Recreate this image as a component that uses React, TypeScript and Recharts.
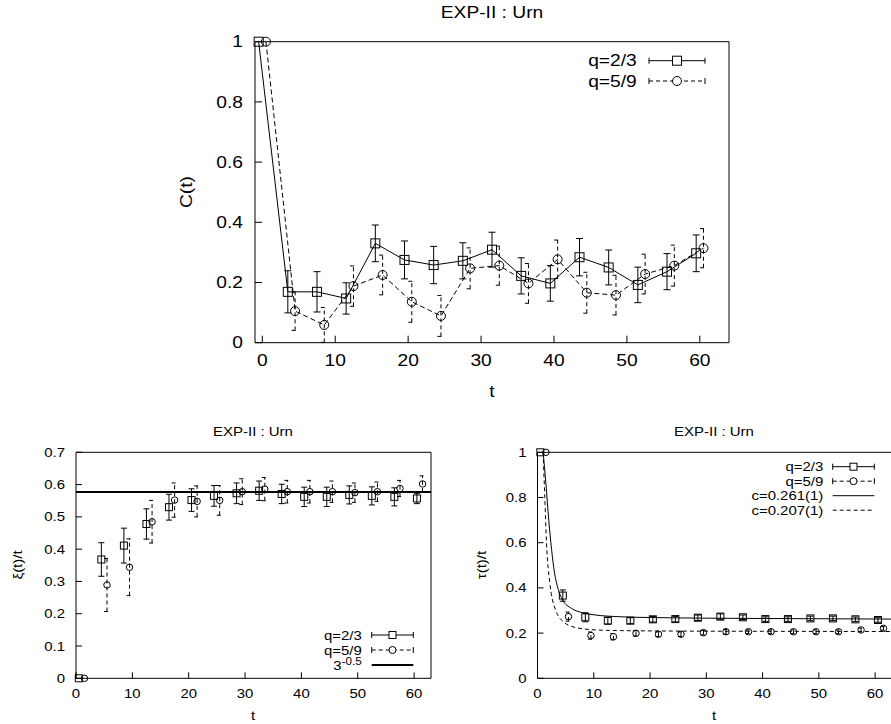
import React from "react";
import {
  ComposedChart,
  Line,
  Scatter,
  XAxis,
  YAxis,
  ErrorBar,
  ReferenceLine,
  Legend,
} from "recharts";

const FONT = '"Liberation Sans", Arial, Helvetica, sans-serif';

// top panel, C(t)
const tTopSq = [-0.5, 3.5, 7.5, 11.5, 15.5, 19.5, 23.5, 27.5, 31.5, 35.5, 39.5, 43.5, 47.5, 51.5, 55.5, 59.5];
const cSq = [1, 0.169, 0.169, 0.147, 0.33, 0.275, 0.258, 0.272, 0.309, 0.222, 0.197, 0.284, 0.25, 0.192, 0.236, 0.297];
const cSqErr = [0, 0.07, 0.067, 0.052, 0.061, 0.063, 0.062, 0.06, 0.058, 0.06, 0.059, 0.062, 0.058, 0.059, 0.06, 0.061];
const tTopCi = [0.5, 4.5, 8.5, 12.5, 16.5, 20.5, 24.5, 28.5, 32.5, 36.5, 40.5, 44.5, 48.5, 52.5, 56.5, 60.5];
const cCi = [1, 0.105, 0.059, 0.188, 0.225, 0.136, 0.089, 0.247, 0.256, 0.197, 0.277, 0.166, 0.158, 0.228, 0.256, 0.314];
const cCiErr = [0, 0.064, 0.058, 0.067, 0.066, 0.068, 0.068, 0.068, 0.065, 0.066, 0.064, 0.068, 0.066, 0.066, 0.068, 0.065];

// bottom panels share the t positions
const tBotSq = [0.5, 4.5, 8.5, 12.5, 16.5, 20.5, 24.5, 28.5, 32.5, 36.5, 40.5, 44.5, 48.5, 52.5, 56.5, 60.5];
const tBotCi = [1.5, 5.5, 9.5, 13.5, 17.5, 21.5, 25.5, 29.5, 33.5, 37.5, 41.5, 45.5, 49.5, 53.5, 57.5, 61.5];

// xi(t)/t
const xiSq = [0, 0.368, 0.411, 0.478, 0.53, 0.552, 0.565, 0.573, 0.581, 0.571, 0.562, 0.562, 0.568, 0.565, 0.562, 0.557];
const xiSqErr = [0, 0.052, 0.054, 0.047, 0.04, 0.035, 0.032, 0.032, 0.03, 0.03, 0.03, 0.03, 0.028, 0.028, 0.028, 0.016];
const xiCi = [0, 0.289, 0.344, 0.485, 0.552, 0.548, 0.551, 0.578, 0.586, 0.578, 0.578, 0.578, 0.575, 0.578, 0.588, 0.602];
const xiCiErr = [0, 0.082, 0.088, 0.066, 0.053, 0.048, 0.046, 0.04, 0.036, 0.035, 0.035, 0.033, 0.03, 0.03, 0.025, 0.025];
const refLevel = 0.577;

// tau(t)/t
const tauSq = [1, 0.366, 0.27, 0.255, 0.255, 0.261, 0.262, 0.268, 0.273, 0.27, 0.262, 0.262, 0.265, 0.265, 0.261, 0.258];
const tauSqErr = [0, 0.025, 0.02, 0.015, 0.013, 0.012, 0.012, 0.012, 0.012, 0.01, 0.01, 0.01, 0.01, 0.01, 0.01, 0.01];
const tauCi = [1, 0.273, 0.189, 0.184, 0.199, 0.195, 0.195, 0.202, 0.206, 0.206, 0.206, 0.206, 0.206, 0.206, 0.214, 0.221];
const tauCiErr = [0, 0.02, 0.016, 0.014, 0.012, 0.01, 0.01, 0.01, 0.01, 0.008, 0.008, 0.008, 0.008, 0.008, 0.008, 0.008];

// fitted curves
const fitT1 = [1, 1.5, 2, 2.5, 3, 3.5, 4.5, 6, 8, 10, 15, 20, 30, 45, 63];
const fitC1 = [1, 0.86, 0.7, 0.57, 0.47, 0.41, 0.345, 0.31, 0.29, 0.281, 0.272, 0.269, 0.266, 0.264, 0.262];
const fitT2 = [1, 1.3, 1.6, 2.2, 3.1, 4.6, 6.9, 10.5, 15, 25, 40, 63];
const fitC2 = [1, 0.8, 0.6, 0.42, 0.31, 0.25, 0.224, 0.214, 0.211, 0.209, 0.208, 0.207];

const xTicks = [0, 10, 20, 30, 40, 50, 60];
const yTicksC = [0, 0.2, 0.4, 0.6, 0.8, 1];
const yTicksXi = [0, 0.1, 0.2, 0.3, 0.4, 0.5, 0.6, 0.7];
const yTicksTau = [0, 0.2, 0.4, 0.6, 0.8, 1];

const title = "EXP-II : Urn";

const rows = (ts: number[], vs: number[], es?: number[]) =>
  ts.map((t, i) => ({ t, v: vs[i], e: es ? es[i] : 0 }));

const Square = ({ cx, cy, s, fill = "none" }: any) => (
  <rect x={cx - s / 2} y={cy - s / 2} width={s} height={s} fill={fill} stroke="#000" strokeWidth={1} />
);
const Ring = ({ cx, cy, s, fill = "none" }: any) => (
  <circle cx={cx} cy={cy} r={s / 2} fill={fill} stroke="#000" strokeWidth={1} />
);

const wideTick = (size: number, sx: number, dy: string) => (p: any) => (
  <text
    transform={`translate(${p.x},${p.y}) scale(${sx},1)`}
    textAnchor={p.textAnchor}
    dy={dy}
    fontSize={size}
    fontFamily={FONT}
    fill="#000"
  >
    {p.payload.value}
  </text>
);

function Caption({ x, y, size, sx, rotate, children }: any) {
  return (
    <div
      style={{
        position: "absolute",
        left: x,
        top: y,
        fontSize: size,
        fontFamily: FONT,
        lineHeight: 1,
        whiteSpace: "nowrap",
        transform: `translate(-50%,-50%) ${rotate ? "rotate(-90deg)" : ""} scaleX(${sx})`,
      }}
    >
      {children}
    </div>
  );
}

type LegItem = { label: string; sup?: string; mark?: "sq" | "ci"; dash?: string; caps?: boolean; w?: number };

function LegendSvg({ items, w, h, textX, x1, x2, y0, dy, size, sx, ms }: any) {
  return (
    <svg width={w} height={h} style={{ display: "block", overflow: "visible" }}>
      {items.map((it: LegItem, i: number) => {
        const y = y0 + i * dy;
        const xm = (x1 + x2) / 2;
        return (
          <g key={i}>
            <text
              transform={`translate(${textX},${y}) scale(${sx},1)`}
              textAnchor="end"
              dy="0.35em"
              fontSize={size}
              fontFamily={FONT}
              fill="#000"
            >
              {it.label}
              {it.sup && (
                <tspan dy="-0.45em" fontSize={size * 0.78}>
                  {it.sup}
                </tspan>
              )}
            </text>
            <line x1={x1} x2={x2} y1={y} y2={y} stroke="#000" strokeWidth={it.w || 1} strokeDasharray={it.dash} />
            {it.caps && (
              <>
                <line x1={x1} x2={x1} y1={y - 3} y2={y + 3} stroke="#000" />
                <line x1={x2} x2={x2} y1={y - 3} y2={y + 3} stroke="#000" />
              </>
            )}
            {it.mark === "sq" && <Square cx={xm} cy={y} s={ms} fill="#fff" />}
            {it.mark === "ci" && <Ring cx={xm} cy={y} s={ms} fill="#fff" />}
          </g>
        );
      })}
    </svg>
  );
}

const legTop: LegItem[] = [
  { label: "q=2/3", mark: "sq", caps: true },
  { label: "q=5/9", mark: "ci", caps: true, dash: "4 3" },
];
const legXi: LegItem[] = [
  { label: "q=2/3", mark: "sq", caps: true },
  { label: "q=5/9", mark: "ci", caps: true, dash: "4 3" },
  { label: "3", sup: "-0.5", w: 2 },
];
const legTau: LegItem[] = [
  { label: "q=2/3", mark: "sq", caps: true },
  { label: "q=5/9", mark: "ci", caps: true, dash: "4 3" },
  { label: "c=0.261(1)" },
  { label: "c=0.207(1)", dash: "4 3" },
];

// every axis is 1px thick so recharts draws it; margins below subtract that pixel
const axes = (xd: number[], yd: number[], yt: number[], size: number, sx: number, ts: number, xm: number, ym: number) => [
  <XAxis key="xb" xAxisId="b" dataKey="t" type="number" domain={xd} ticks={xTicks} interval={0} height={1}
    tickSize={-ts} tickMargin={xm} tick={wideTick(size, sx, "0.71em")} stroke="#000" />,
  <XAxis key="xt" xAxisId="t" orientation="top" type="number" domain={xd} ticks={xTicks} interval={0} height={1}
    tickSize={-ts} tick={false} stroke="#000" allowDataOverflow />,
  <YAxis key="yl" yAxisId="l" type="number" domain={yd} ticks={yt} interval={0} width={1}
    tickSize={-ts} tickMargin={ym} tick={wideTick(size, sx, "0.35em")} stroke="#000" />,
  <YAxis key="yr" yAxisId="r" orientation="right" type="number" domain={yd} ticks={yt} interval={0} width={1}
    tickSize={-ts} tick={false} stroke="#000" allowDataOverflow />,
];

export default function App() {
  const topSq = rows(tTopSq, cSq, cSqErr);
  const topCi = rows(tTopCi, cCi, cCiErr);
  const xiA = rows(tBotSq, xiSq, xiSqErr);
  const xiB = rows(tBotCi, xiCi, xiCiErr);
  const tauA = rows(tBotSq, tauSq, tauSqErr);
  const tauB = rows(tBotCi, tauCi, tauCiErr);
  const fit1 = rows(fitT1, fitC1);
  const fit2 = rows(fitT2, fitC2);

  return (
    <div style={{ position: "absolute", left: 0, top: 0, width: 891, height: 724, overflow: "hidden", background: "#fff" }}>
      {/* top panel */}
      <div style={{ position: "absolute", left: 0, top: 0 }}>
        <ComposedChart width={891} height={400} margin={{ top: 40.7, right: 161, bottom: 56.3, left: 254 }}>
          {axes([-1, 64], [0, 1], yTicksC, 16, 1.2, 7, 19, 19)}
          <Line xAxisId="b" yAxisId="l" data={topSq} dataKey="v" type="linear" stroke="#000" strokeWidth={1}
            isAnimationActive={false} activeDot={false}
            dot={(p: any) => <Square key={`a${p.index}`} cx={p.cx} cy={p.cy} s={9} />}>
            <ErrorBar dataKey="e" direction="y" width={3.5} stroke="#000" strokeWidth={1} />
          </Line>
          <Line xAxisId="b" yAxisId="l" data={topCi} dataKey="v" type="linear" stroke="#000" strokeWidth={1}
            strokeDasharray="5 3" isAnimationActive={false} activeDot={false}
            dot={(p: any) => <Ring key={`b${p.index}`} cx={p.cx} cy={p.cy} s={9} />}>
            <ErrorBar dataKey="e" direction="y" width={3.5} stroke="#000" strokeWidth={1} strokeDasharray="4 3" />
          </Line>
          <Legend layout="vertical" align="center" verticalAlign="middle"
            wrapperStyle={{ left: 560, top: 50, width: 160, height: 45 }}
            content={() => (
              <LegendSvg items={legTop} w={160} h={45} textX={76.7} x1={89} x2={145} y0={10.7} dy={20.3} size={16} sx={1.2} ms={9} />
            )} />
        </ComposedChart>
      </div>

      {/* bottom left panel */}
      <div style={{ position: "absolute", left: 0, top: 420 }}>
        <ComposedChart width={460} height={304} margin={{ top: 31.3, right: 28, bottom: 44.7, left: 75 }}>
          {axes([0, 63], [0, 0.7], yTicksXi, 13, 1.15, 6, 16, 17)}
          <ReferenceLine xAxisId="b" yAxisId="l" y={refLevel} stroke="#000" strokeWidth={2} />
          <Scatter xAxisId="b" yAxisId="l" data={xiA} dataKey="v" isAnimationActive={false}
            shape={(p: any) => <Square cx={p.cx} cy={p.cy} s={7} />}>
            <ErrorBar dataKey="e" direction="y" width={3} stroke="#000" strokeWidth={1} />
          </Scatter>
          <Scatter xAxisId="b" yAxisId="l" data={xiB} dataKey="v" isAnimationActive={false}
            shape={(p: any) => <Ring cx={p.cx} cy={p.cy} s={6.5} />}>
            <ErrorBar dataKey="e" direction="y" width={3} stroke="#000" strokeWidth={1} strokeDasharray="4 3" />
          </Scatter>
          <Legend layout="vertical" align="center" verticalAlign="middle"
            wrapperStyle={{ left: 280, top: 200, width: 150, height: 55 }}
            content={() => (
              <LegendSvg items={legXi} w={150} h={55} textX={81.7} x1={91.7} x2={133.3} y0={15} dy={15} size={13} sx={1.15} ms={7} />
            )} />
        </ComposedChart>
      </div>

      {/* bottom right panel */}
      <div style={{ position: "absolute", left: 480, top: 420 }}>
        <ComposedChart width={420} height={304} margin={{ top: 31.3, right: 7, bottom: 44.7, left: 56.5 }}>
          {axes([0, 63], [0, 1], yTicksTau, 13, 1.15, 6, 16, 17)}
          <Line xAxisId="b" yAxisId="l" data={fit1} dataKey="v" type="monotone" stroke="#000" strokeWidth={1}
            dot={false} activeDot={false} isAnimationActive={false} />
          <Line xAxisId="b" yAxisId="l" data={fit2} dataKey="v" type="monotone" stroke="#000" strokeWidth={1}
            strokeDasharray="4 3" dot={false} activeDot={false} isAnimationActive={false} />
          <Scatter xAxisId="b" yAxisId="l" data={tauA} dataKey="v" isAnimationActive={false}
            shape={(p: any) => <Square cx={p.cx} cy={p.cy} s={7} />}>
            <ErrorBar dataKey="e" direction="y" width={3} stroke="#000" strokeWidth={1} />
          </Scatter>
          <Scatter xAxisId="b" yAxisId="l" data={tauB} dataKey="v" isAnimationActive={false}
            shape={(p: any) => <Ring cx={p.cx} cy={p.cy} s={6.5} />}>
            <ErrorBar dataKey="e" direction="y" width={3} stroke="#000" strokeWidth={1} strokeDasharray="4 3" />
          </Scatter>
          <Legend layout="vertical" align="center" verticalAlign="middle"
            wrapperStyle={{ left: 250, top: 35, width: 160, height: 65 }}
            content={() => (
              <LegendSvg items={legTau} w={160} h={65} textX={93.3} x1={102.7} x2={144.3} y0={11.7} dy={14.5} size={13} sx={1.15} ms={7} />
            )} />
        </ComposedChart>
      </div>

      <Caption x={492} y={13} size={16} sx={1.2}>{title}</Caption>
      <Caption x={187} y={192} size={16} sx={1.2} rotate>C(t)</Caption>
      <Caption x={492} y={392} size={16} sx={1.2}>t</Caption>

      <Caption x={253} y={431} size={13} sx={1.15}>{title}</Caption>
      <Caption x={17} y={565} size={13} sx={1.15} rotate>ξ(t)/t</Caption>
      <Caption x={253} y={715} size={13} sx={1.15}>t</Caption>

      <Caption x={714} y={431} size={13} sx={1.15}>{title}</Caption>
      <Caption x={481} y={565} size={13} sx={1.15} rotate>τ(t)/t</Caption>
      <Caption x={714} y={715} size={13} sx={1.15}>t</Caption>
    </div>
  );
}
